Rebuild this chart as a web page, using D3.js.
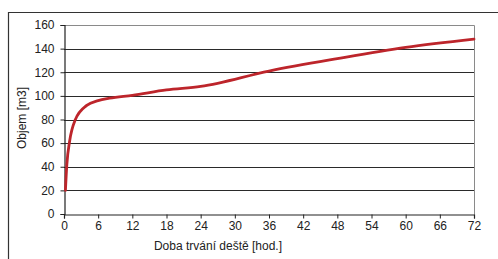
<!DOCTYPE html>
<html>
<head>
<meta charset="utf-8">
<script src="https://cdn.jsdelivr.net/npm/d3@7"></script>
<style>
  body { margin: 0; background: #fff; }
  svg { font-family: "Liberation Sans", Arial, sans-serif; }
</style>
</head>
<body>
<div id="chart"></div>
<script>
// duration of rain [hours] and retained volume [m3]
const hours = [0.25, 0.5, 1, 2, 4, 6, 8, 12, 18, 24, 36, 48, 60, 72];
const volume = [20, 42, 62, 80, 92, 96, 98, 100.5, 105, 108, 121, 131.5, 141, 148];
const xTicks = [0, 6, 12, 18, 24, 30, 36, 42, 48, 54, 60, 66, 72];
const yTicks = [0, 20, 40, 60, 80, 100, 120, 140, 160];

const W = 498, H = 259;
const margin = { top: 25, right: 24, bottom: 45, left: 64 };
const width = W - margin.left - margin.right;
const height = H - margin.top - margin.bottom;

const svg = d3.select('#chart')
  .append('svg')
  .attr('width', W)
  .attr('height', H);

// outer frame
svg.append('path')
  .attr('d', `M8.5,${H} V12.5 H${W}`)
  .attr('fill', 'none')
  .attr('stroke', '#333')
  .attr('stroke-width', 1.2);

const g = svg.append('g')
  .attr('transform', `translate(${margin.left},${margin.top})`);

const x = d3.scaleLinear().domain([0, 72]).range([0, width]);
const y = d3.scaleLinear().domain([0, 160]).range([height, 0]);

// gridlines
g.selectAll('line.grid')
  .data(yTicks.filter(d => d > 0 && d < 160))
  .enter()
  .append('line')
  .attr('class', 'grid')
  .attr('x1', 0)
  .attr('x2', width)
  .attr('y1', d => Math.round(y(d)) + 0.5)
  .attr('y2', d => Math.round(y(d)) + 0.5)
  .attr('stroke', '#2a2a2a')
  .attr('stroke-width', 1);

// plot area border (top / right)
g.append('path')
  .attr('d', `M0,${Math.round(y(160)) + 0.5} H${width + 0.5} V${height}`)
  .attr('fill', 'none')
  .attr('stroke', '#8a8a8a');

const xAxis = g.append('g')
  .attr('transform', `translate(0,${Math.round(height) + 0.5})`)
  .call(d3.axisBottom(x).tickValues(xTicks).tickSize(4).tickPadding(3));

const yAxis = g.append('g')
  .attr('transform', 'translate(0.5,0)')
  .call(d3.axisLeft(y).tickValues(yTicks).tickSize(4).tickPadding(6));

[xAxis, yAxis].forEach(a => {
  a.select('.domain').attr('stroke', '#222').attr('stroke-width', 1.2);
  a.selectAll('.tick line').attr('stroke', '#222');
  a.selectAll('.tick text')
    .attr('fill', '#222')
    .style('font-size', '12px')
    .style('font-family', '"Liberation Sans", Arial, sans-serif');
});

// axis titles
svg.append('text')
  .attr('x', 218)
  .attr('y', 250)
  .attr('text-anchor', 'middle')
  .attr('fill', '#222')
  .style('font-size', '12px')
  .text('Doba trvání deště [hod.]');

svg.append('text')
  .attr('transform', 'translate(26,118) rotate(-90)')
  .attr('text-anchor', 'middle')
  .attr('fill', '#222')
  .style('font-size', '12px')
  .text('Objem [m3]');

// curve
const line = d3.line()
  .x((d, i) => x(hours[i]))
  .y(d => y(d))
  .curve(d3.curveMonotoneX);

g.append('path')
  .datum(volume)
  .attr('d', line)
  .attr('fill', 'none')
  .attr('stroke', '#bd252b')
  .attr('stroke-width', 2.8)
  .attr('stroke-linejoin', 'round')
  .attr('stroke-linecap', 'round');
</script>
</body>
</html>
